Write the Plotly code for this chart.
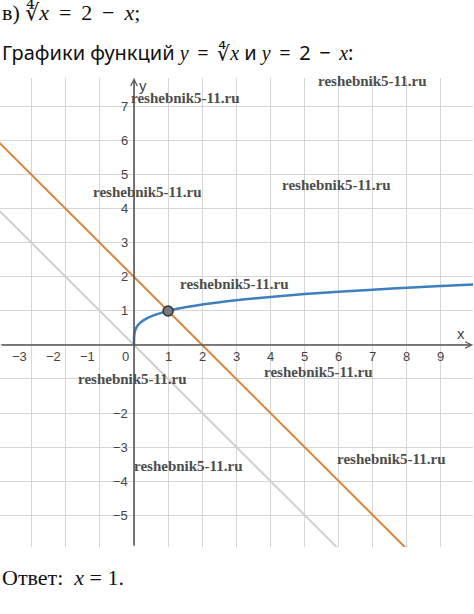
import numpy as np
import plotly.graph_objects as go

# data
x_root = [0, 0.0001, 0.001, 0.005, 0.01, 0.03, 0.06, 0.1, 0.2, 0.35, 0.5, 0.75, 1, 1.5, 2, 3, 4, 5, 6, 7, 8, 9, 10]
y_root = [v ** 0.25 for v in x_root]
x_line = [-4, 10]
y_line = [2 - v for v in x_line]          # y = 2 - x
y_mirror = [-v for v in x_line]           # gray helper line y = -x
sol_x = [1]
sol_y = [1]

x_ticks = [-3, -2, -1, 0, 1, 2, 3, 4, 5, 6, 7, 8, 9]
x_tick_text = ["\u22123", "\u22122", "\u22121", "0", "1", "2", "3", "4", "5", "6", "7", "8", "9"]
y_ticks = [-5, -4, -3, -2, 1, 2, 3, 4, 5, 6, 7]
y_tick_text = ["\u22125", "\u22124", "\u22123", "\u22122", "1", "2", "3", "4", "5", "6", "7"]

wm_x = [7.0, 1.5, 0.4, 5.95, 2.95, -0.05, 5.4, 7.55, 1.6]
wm_y = [7.75, 7.25, 4.5, 4.7, 1.8, -1.0, -0.8, -3.35, -3.57]

XR = [-3.93, 9.94]
YR = [-5.94, 7.85]

fig = go.Figure()

fig.add_trace(go.Scatter(x=x_line, y=y_mirror, mode='lines',
                         line=dict(color='#cfcfcf', width=2), hoverinfo='skip'))
fig.add_trace(go.Scatter(x=x_line, y=y_line, mode='lines',
                         line=dict(color='#d9843a', width=2), hoverinfo='skip'))
fig.add_trace(go.Scatter(x=x_root, y=y_root, mode='lines',
                         line=dict(color='#3f7fbf', width=2.5, shape='spline'), hoverinfo='skip'))
fig.add_trace(go.Scatter(x=sol_x, y=sol_y, mode='markers',
                         marker=dict(size=10, color='#7a7a7a', line=dict(color='#333333', width=1.5)),
                         hoverinfo='skip'))

# axes with arrows
fig.add_annotation(x=XR[1], y=0, ax=XR[0], ay=0, xref='x', yref='y', axref='x', ayref='y',
                   text='', showarrow=True, arrowhead=5, arrowsize=0.8, arrowwidth=1.6, arrowcolor='#555555')
fig.add_annotation(x=0, y=YR[1], ax=0, ay=YR[0], xref='x', yref='y', axref='x', ayref='y',
                   text='', showarrow=True, arrowhead=5, arrowsize=0.8, arrowwidth=1.6, arrowcolor='#555555')

tick_font = dict(family='Liberation Sans, Arial', size=13, color='#444444')
for t, s in zip(x_ticks, x_tick_text):
    fig.add_annotation(x=t, y=0, xref='x', yref='y', text=s, showarrow=False,
                       xanchor='right' if t <= 0 else 'center', yanchor='top', yshift=-2,
                       xshift=-3 if t <= 0 else 0, font=tick_font)
for t, s in zip(y_ticks, y_tick_text):
    fig.add_annotation(x=0, y=t, xref='x', yref='y', text=s, showarrow=False,
                       xanchor='right', xshift=-4, font=tick_font)
fig.add_annotation(x=XR[1], y=0, xref='x', yref='y', text='x', showarrow=False,
                   xanchor='right', yanchor='bottom', xshift=-6, yshift=1, font=dict(tick_font, size=15))
fig.add_annotation(x=0, y=YR[1], xref='x', yref='y', text='y', showarrow=False,
                   xanchor='left', yanchor='top', xshift=3, yshift=3, font=dict(tick_font, size=15))

# watermarks
for wx, wy in zip(wm_x, wm_y):
    fig.add_annotation(x=wx, y=wy, xref='x', yref='y', text='<b>reshebnik5-11.ru</b>', showarrow=False,
                       font=dict(family='Liberation Serif, DejaVu Serif', size=15, color='#4d4d4d'))

# headings
M = "<span style='font-family:Liberation Serif'><i>{}</i></span>"
serif_font = dict(family='Liberation Serif, DejaVu Serif', size=22, color='#111111')
sans_font = dict(family='Noto Sans, Open Sans', size=20, color='#111111')
fig.add_annotation(x=0, y=1, xref='paper', yref='paper', xanchor='left', yanchor='middle',
                   yshift=78 - 12, showarrow=False, font=serif_font,
                   text='в) \u221c' + M.format('x') + ' \u2009=\u2009 2 \u2009\u2212\u2009 ' + M.format('x') + ';')
fig.add_annotation(x=0, y=1, xref='paper', yref='paper', xanchor='left', yanchor='middle',
                   yshift=78 - 52, showarrow=False, font=sans_font,
                   text='Графики функций ' + M.format('y') + ' \u2009=\u2009 \u221c' + M.format('x')
                        + ' и ' + M.format('y') + ' \u2009=\u2009 2 \u2009\u2212\u2009 ' + M.format('x') + ':')
fig.add_annotation(x=0, y=0, xref='paper', yref='paper', xanchor='left', yanchor='middle',
                   yshift=-(577 - 547), showarrow=False, font=serif_font,
                   text='Ответ:  ' + M.format('x') + ' = 1.')

fig.update_xaxes(range=XR, dtick=1, tick0=0, showgrid=True, gridcolor='#d6d6d6', gridwidth=1.3,
                 zeroline=False, showticklabels=False, ticks='', fixedrange=True)
fig.update_yaxes(range=YR, dtick=1, tick0=0, showgrid=True, gridcolor='#d6d6d6', gridwidth=1.3,
                 zeroline=False, showticklabels=False, ticks='', fixedrange=True)

fig.update_layout(width=474, height=614, margin=dict(l=0, r=1, t=78, b=67),
                  showlegend=False, plot_bgcolor='white', paper_bgcolor='white')

# page has a default 8px body margin; drop it so the figure sits at the window corner
fig.write_html("out.html", config={'displayModeBar': False},
               post_script="document.body.style.margin='0px';")
